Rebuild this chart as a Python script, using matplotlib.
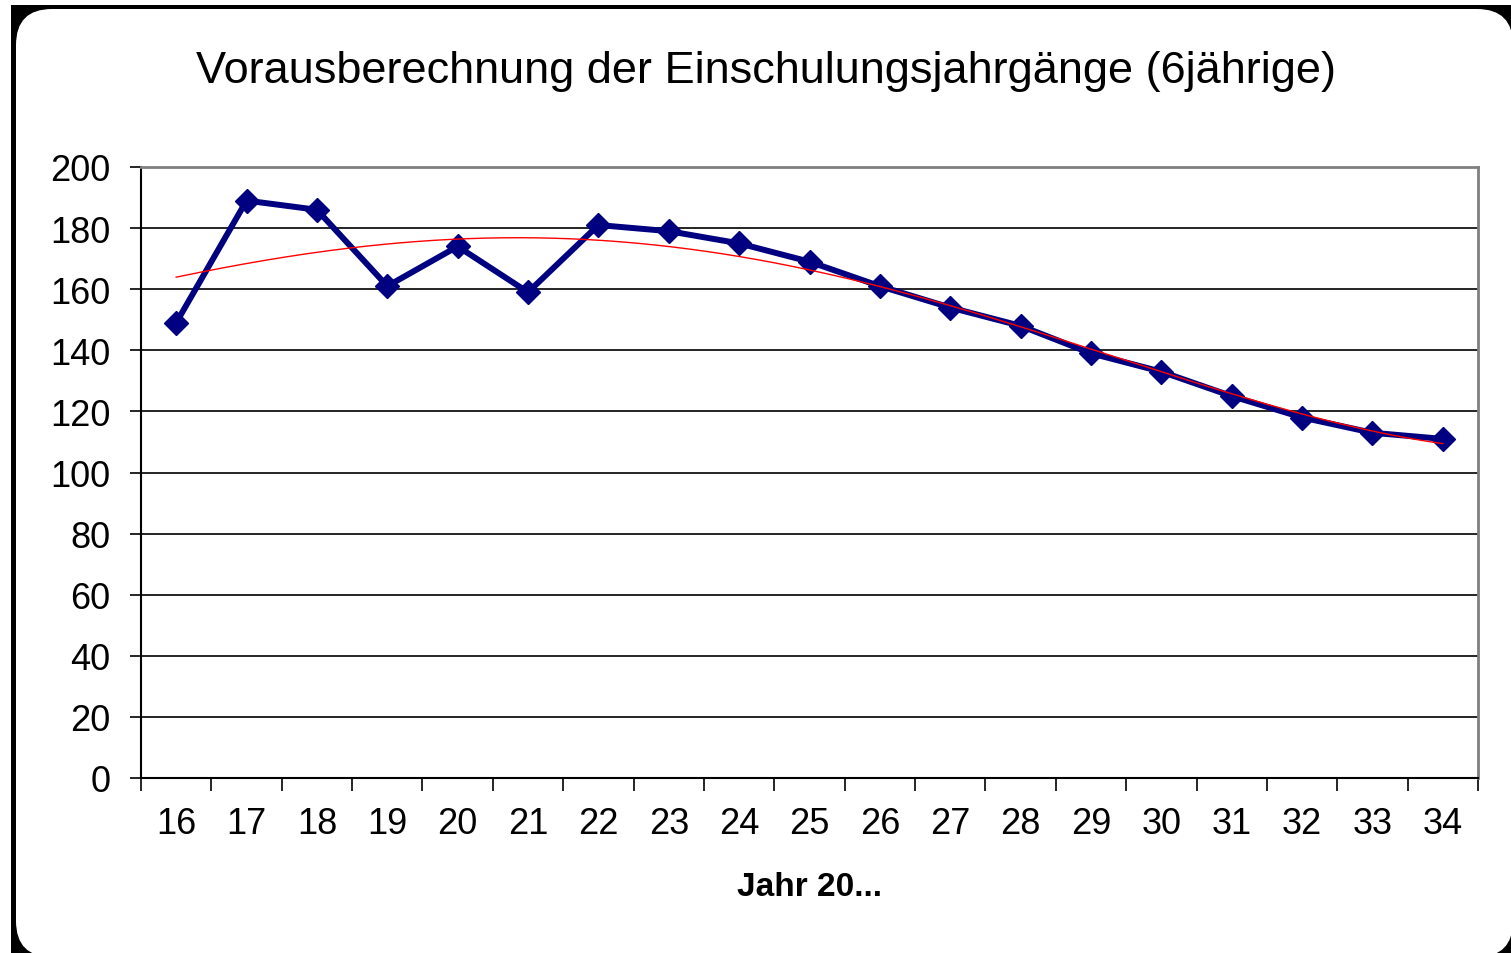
import matplotlib
matplotlib.use("Agg")
import matplotlib.pyplot as plt
import numpy as np
from matplotlib.patches import Rectangle, FancyBboxPatch

years = ["16", "17", "18", "19", "20", "21", "22", "23", "24", "25",
         "26", "27", "28", "29", "30", "31", "32", "33", "34"]
kinder = [149, 189, 186, 161, 174, 159, 181, 179, 175, 169,
          161, 154, 148, 139, 133, 125, 118, 113, 111]
title = "Vorausberechnung der Einschulungsjahrgänge (6jährige)"
xlabel = "Jahr 20..."

W, H = 1511, 954
plt.rcParams['font.family'] = ['Liberation Sans', 'DejaVu Sans']

fig = plt.figure(figsize=(W / 100, H / 100), dpi=100)
fig.patch.set_facecolor("white")

# black frame and rounded white panel (pixel coordinates)
fig.patches.append(Rectangle((11, 0), W - 11, H - 6, transform=None,
                             facecolor="black", edgecolor="none", zorder=0))
fig.patches.append(FancyBboxPatch((16, -4), W - 16 + 2, H - 10 + 4,
                                  boxstyle="round,pad=0,rounding_size=36",
                                  transform=None, facecolor="white",
                                  edgecolor="none", zorder=1))

ax = fig.add_axes([141 / W, (H - 779) / H, (1478 - 141) / W, (779 - 168) / H])
ax.set_zorder(2)

x = np.arange(len(years))
ax.plot(x, kinder, color="#000080", lw=4.3, marker="D", ms=12,
        markeredgecolor="#000080", zorder=4)

# polynomial trend, as the spreadsheet trendline
coef = np.polyfit(x + 1, kinder, 4)
xs = np.linspace(0, len(years) - 1, 300)
ax.plot(xs, np.polyval(coef, xs + 1), color="red", lw=1.0, zorder=5)

ax.set_xlim(-0.5, len(years) - 0.5)
ax.set_ylim(0, 200)
ax.set_yticks(np.arange(0, 201, 20))
ax.yaxis.grid(True, color="black", lw=1.2)
ax.set_axisbelow(True)

ax.set_xticks(np.arange(-0.5, len(years), 1))
ax.set_xticklabels([])
ax.set_xticks(x, minor=True)
ax.set_xticklabels(years, minor=True)
ax.tick_params(axis="x", which="major", length=9, width=1.2, direction="out")
ax.tick_params(axis="x", which="minor", length=0, pad=20, labelsize=26)
ax.tick_params(axis="y", length=8, width=1.2, direction="out", pad=14, labelsize=26)

for side in ["top", "right"]:
    ax.spines[side].set_color("#808080")
    ax.spines[side].set_linewidth(2)
for side in ["left", "bottom"]:
    ax.spines[side].set_color("black")
    ax.spines[side].set_linewidth(1.5)

ax.set_xlabel(xlabel, fontsize=24, fontweight="bold", labelpad=22)
fig.text(766 / W, 1 - 72 / H, title, ha="center", va="center", fontsize=32.5,
         zorder=3)

fig.savefig("out.png", dpi=100)
